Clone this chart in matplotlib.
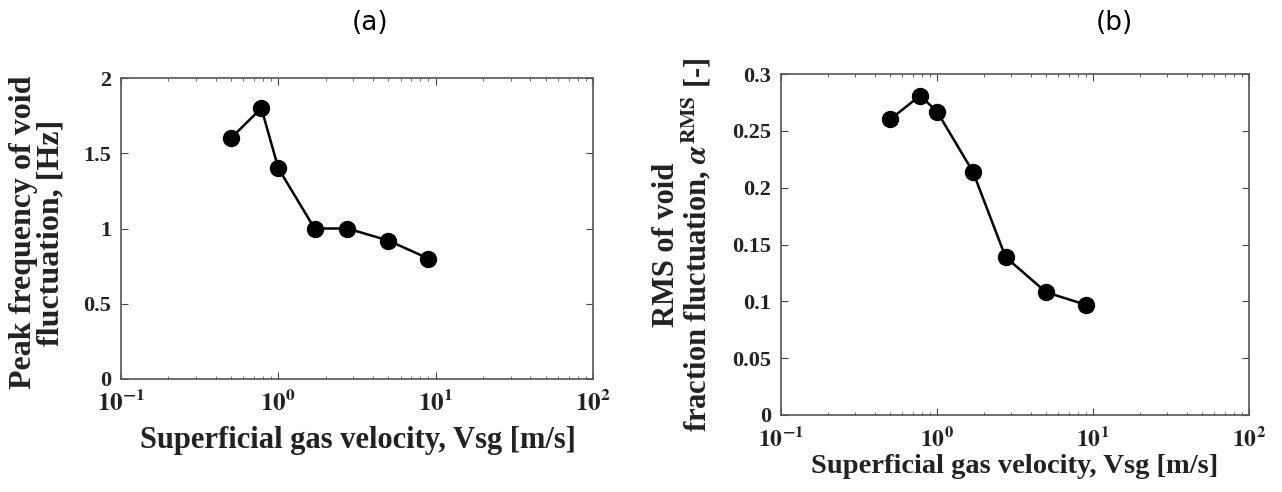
import math
import matplotlib
matplotlib.use("Agg")
import matplotlib.pyplot as plt
from matplotlib.ticker import FuncFormatter, LogLocator, NullFormatter

# data
vsg = [0.5, 0.78, 1.0, 1.7, 2.75, 5.0, 9.0]
peak_freq = [1.6, 1.8, 1.4, 1.0, 1.0, 0.92, 0.80]
rms_void = [0.260, 0.281, 0.267, 0.214, 0.139, 0.108, 0.097]

yticks_a = [0, 0.5, 1, 1.5, 2]
yticks_b = [0, 0.05, 0.1, 0.15, 0.2, 0.25, 0.3]

plt.rcParams["font.family"] = "Liberation Serif"
plt.rcParams["font.weight"] = "bold"
plt.rcParams["mathtext.fontset"] = "stix"

fig = plt.figure(figsize=(12.82, 4.92), dpi=100)
W, H = 1282, 492

ax_a = fig.add_axes([121 / W, 1 - 379 / H, (593 - 121) / W, (379 - 78) / H])
ax_b = fig.add_axes([781 / W, 1 - 415 / H, (1249 - 781) / W, (415 - 74) / H])

TXT = "#222222"


def style(ax, y, yticks, ylim, xsize, xpad):
    ax.plot(vsg, y, "-o", color="black", lw=1.8, ms=11.5)
    ax.set_xscale("log")
    ax.set_xlim(0.1, 100)
    ax.set_ylim(*ylim)
    ax.set_yticks(yticks)
    ax.yaxis.set_major_formatter(FuncFormatter(lambda v, p: "%g" % v))
    ax.xaxis.set_major_locator(LogLocator(base=10, numticks=10))
    ax.xaxis.set_minor_locator(LogLocator(base=10, subs=range(2, 10), numticks=10))
    ax.xaxis.set_minor_formatter(NullFormatter())
    ax.xaxis.set_major_formatter(
        FuncFormatter(lambda v, p: r"$\mathbf{10^{%d}}$" % round(math.log10(v))))
    ax.tick_params(which="both", direction="in", top=True, right=True,
                   colors="#444444", labelcolor=TXT)
    ax.tick_params(axis="x", labelsize=xsize, pad=xpad)
    ax.tick_params(axis="y", labelsize=16, pad=7)
    ax.tick_params(which="major", length=5)
    ax.tick_params(which="minor", length=2.5)
    for s in ax.spines.values():
        s.set_color("#555555")
        s.set_linewidth(1.2)


style(ax_a, peak_freq, yticks_a, (0, 2), 18, 8)
style(ax_b, rms_void, yticks_b, (0, 0.3), 17, 9)

xlab = "Superficial gas velocity, Vsg [m/s]"
ax_a.set_xlabel(xlab, fontsize=22, fontweight="bold", color=TXT, va="center")
ax_a.xaxis.set_label_coords(0.502, -0.203)
ax_b.set_xlabel(xlab, fontsize=20.5, fontweight="bold", color=TXT, va="center")
ax_b.xaxis.set_label_coords(0.499, -0.152)

ax_a.set_ylabel("Peak frequency of void\nfluctuation, [Hz]", fontsize=23,
                fontweight="bold", color=TXT, linespacing=0.95, va="center")
ax_a.yaxis.set_label_coords(-0.178, 0.487)
ax_b.set_ylabel("RMS of void\nfraction fluctuation, " + r"$\alpha^{\mathrm{RMS}}$" + " [-]",
                fontsize=22, fontweight="bold", color=TXT, linespacing=0.95, va="center")
ax_b.yaxis.set_label_coords(-0.209, 0.5)

fig.text(370 / W, 1 - 23 / H, "(a)", fontsize=19, family="DejaVu Sans",
         fontweight="normal", ha="center", va="center")
fig.text(1114 / W, 1 - 23 / H, "(b)", fontsize=19, family="DejaVu Sans",
         fontweight="normal", ha="center", va="center")

fig.savefig("out.png", dpi=100)
